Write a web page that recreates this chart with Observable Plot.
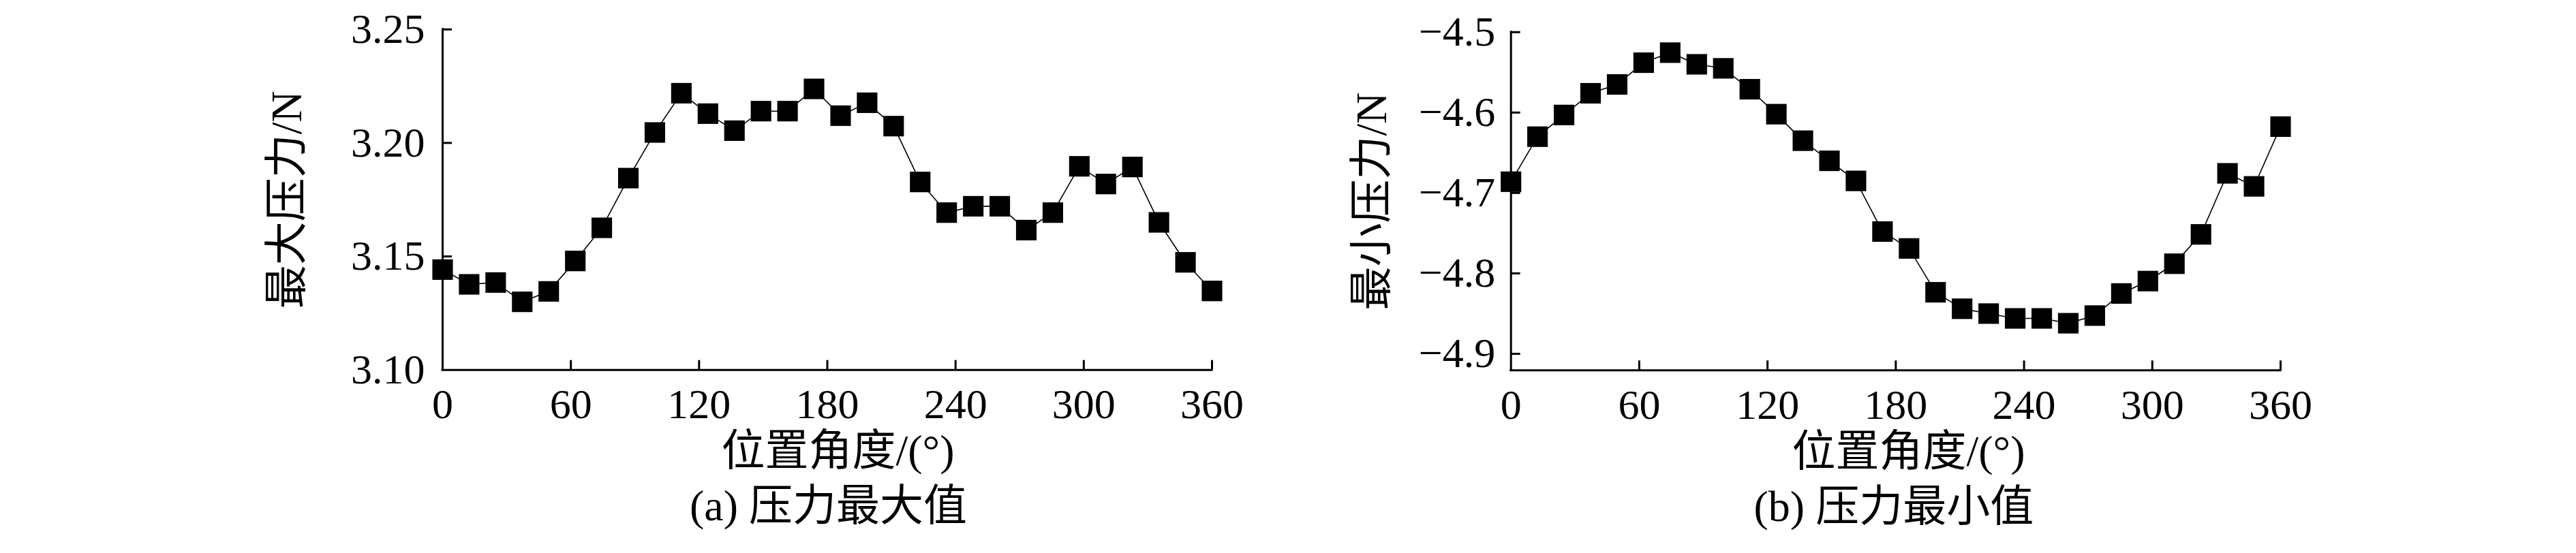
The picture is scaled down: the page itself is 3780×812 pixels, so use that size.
<!DOCTYPE html>
<html><head><meta charset="utf-8">
<script src="https://cdn.jsdelivr.net/npm/d3@7"></script>
<script src="https://cdn.jsdelivr.net/npm/@observablehq/plot@0.6"></script>
<style>
html,body{margin:0;padding:0;background:#fff;}
#wrap{display:flex;width:3780px;height:812px;background:#fff;}
</style></head><body><div id="wrap"></div>
<script>
// Position angle (degrees)
const angle = [0, 12.41, 24.83, 37.24, 49.66, 62.07, 74.48, 86.9, 99.31, 111.72, 124.14, 136.55, 148.97, 161.38, 173.79, 186.21, 198.62, 211.03, 223.45, 235.86, 248.28, 260.69, 273.1, 285.52, 297.93, 310.34, 322.76, 335.17, 347.59, 360];
// (a) maximum pressure / N
const pMax = [3.1442, 3.1377, 3.1385, 3.1300, 3.1346, 3.1480, 3.1626, 3.1845, 3.2046, 3.2219, 3.2129, 3.2054, 3.2140, 3.2140, 3.2238, 3.2120, 3.2177, 3.2074, 3.1828, 3.1693, 3.1721, 3.1721, 3.1616, 3.1693, 3.1897, 3.1819, 3.1894, 3.1650, 3.1474, 3.1348];
// (b) minimum pressure / N
const pMin = [-4.686, -4.630, -4.603, -4.576, -4.565, -4.538, -4.5255, -4.540, -4.545, -4.571, -4.602, -4.635, -4.660, -4.685, -4.748, -4.769, -4.8235, -4.844, -4.850, -4.856, -4.856, -4.862, -4.8525, -4.825, -4.8096, -4.788, -4.7515, -4.6756, -4.6918, -4.6175];

const xTicks = [0, 60, 120, 180, 240, 300, 360];
const yTicksA = [3.10, 3.15, 3.20, 3.25];
const yTicksB = [-4.9, -4.8, -4.7, -4.6, -4.5];
const xTitle = "位置角度/(°)";
const yTitleA = "最大压力/N";
const yTitleB = "最小压力/N";
const captionA = "(a) 压力最大值";
const captionB = "(b) 压力最小值";

const font = "'Liberation Serif','Times New Roman','Noto Sans CJK SC',serif";

function panel(cfg) {
  const W = 1890, H = 812;
  const frameW = W - cfg.ml - cfg.mr, frameH = H - cfg.mt - cfg.mb;
  const data = angle.map((a, i) => ({a, v: cfg.values[i]}));
  return Plot.plot({
    width: W, height: H,
    marginLeft: cfg.ml, marginRight: cfg.mr, marginTop: cfg.mt, marginBottom: cfg.mb,
    style: {fontFamily: font, fontSize: "62px", background: "#fff", color: "#000", overflow: "visible"},
    x: {domain: [0, 360]},
    y: {domain: cfg.yDomain},
    marks: [
      Plot.axisX({ticks: xTicks, tickSize: 0, tickPadding: 27, tickFormat: d3.format("d"), fontSize: 62, fontFamily: font, label: null}),
      Plot.axisY({ticks: cfg.yLabelTicks, tickSize: 0, tickPadding: cfg.pad, tickFormat: cfg.fmt, fontSize: 62, fontFamily: font, label: null}),
      Plot.tickX(xTicks.slice(1), {x: d => d, insetTop: frameH - 14, stroke: "#000", strokeWidth: 3}),
      Plot.tickY(cfg.yTickMarks, {y: d => d, insetRight: frameW - 14, stroke: "#000", strokeWidth: 3}),
      Plot.ruleX([0], {stroke: "#000", strokeWidth: 3, strokeLinecap: "square"}),
      Plot.ruleY([cfg.yDomain[0]], {stroke: "#000", strokeWidth: 3, strokeLinecap: "square"}),
      Plot.line(data, {x: "a", y: "v", stroke: "#000", strokeWidth: 1.6}),
      Plot.dot(data, {x: "a", y: "v", symbol: "square", r: 17, fill: "#000", stroke: null}),
      Plot.text([cfg.yTitle], {text: d => d, frameAnchor: "left", rotate: -90, dx: cfg.yTitleDx, textAnchor: "middle", fontSize: 64, fontFamily: font, fill: "#000"}),
      Plot.text([xTitle], {text: d => d, frameAnchor: "bottom", dx: cfg.xTitleDx, dy: 140, fontSize: 64, fontFamily: font, fill: "#000"}),
      Plot.text([cfg.caption], {text: d => d, frameAnchor: "bottom", dx: cfg.capDx, dy: 221, fontSize: 64, fontFamily: font, fill: "#000"})
    ]
  });
}

const wrap = document.getElementById("wrap");
wrap.appendChild(panel({
  values: pMax, ml: 649, mr: 112, mt: 42.7, mb: 269.3,
  yDomain: [3.10, 3.25], yLabelTicks: yTicksA, yTickMarks: yTicksA.slice(1),
  pad: 26, fmt: d3.format(".2f"),
  yTitle: yTitleA, yTitleDx: -228, xTitleDx: 15.5, caption: captionA, capDx: 1.5
}));
wrap.appendChild(panel({
  values: pMin, ml: 326.7, mr: 434, mt: 46.7, mb: 268.7,
  yDomain: [-4.9206, -4.5], yLabelTicks: yTicksB, yTickMarks: yTicksB,
  pad: 23, fmt: d3.format(".1f"),
  yTitle: yTitleB, yTitleDx: -204, xTitleDx: 18.6, caption: captionB, capDx: -3
}));
</script>
</body></html>
